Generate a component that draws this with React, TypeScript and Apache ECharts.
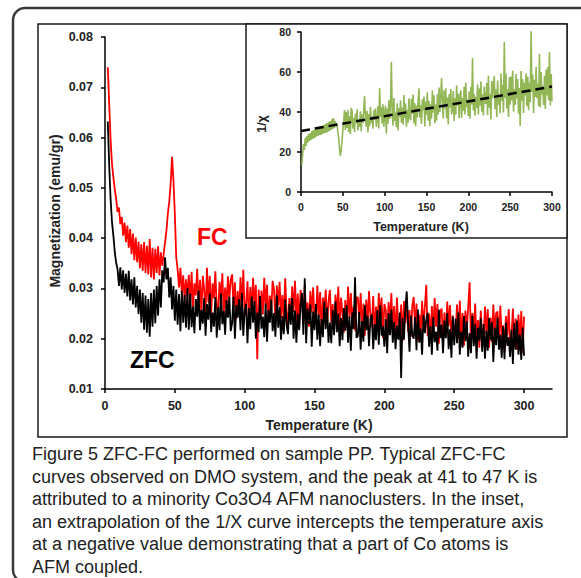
import React, { useEffect, useRef } from "react";
import * as echarts from "echarts";

// ---------- data ----------
// main plot: temperature grid starts at 2 K, 1 K step
const MAIN_T_START = 2;
// inset: temperature grid starts at 1 K, 1 K step
const INSET_T_START = 1;

const mainXTicks = [0, 50, 100, 150, 200, 250, 300];
const insetXTicks = [0, 50, 100, 150, 200, 250, 300];

// FC magnetization (emu/gr), T = 2..300 K
const fcMagnetization = [
  0.0740, 0.0668, 0.0596, 0.0548, 0.0521, 0.0497, 0.0478, 0.0452,
  0.0461, 0.0428, 0.0442, 0.0405, 0.0431, 0.0392, 0.0425, 0.0381, 0.0418, 0.0368,
  0.0409, 0.0356, 0.0401, 0.0352, 0.0393, 0.0340, 0.0388, 0.0335, 0.0392, 0.0331,
  0.0385, 0.0328, 0.0398, 0.0322, 0.0381, 0.0318, 0.0379, 0.0331, 0.0384, 0.0326,
  0.0372, 0.0345, 0.0368, 0.0392, 0.0415, 0.0449, 0.0472, 0.0508, 0.0562, 0.0515,
  0.0448, 0.0362, 0.0338, 0.0302, 0.0341, 0.0289, 0.0326, 0.0276, 0.0318, 0.0283, 0.0327,
  0.0270, 0.0333, 0.0257, 0.0310, 0.0286, 0.0339, 0.0262, 0.0317, 0.0248, 0.0325,
  0.0298, 0.0251, 0.0341, 0.0272, 0.0325, 0.0248, 0.0310, 0.0280, 0.0334, 0.0261,
  0.0253, 0.0313, 0.0274, 0.0330, 0.0247, 0.0302, 0.0261, 0.0324, 0.0279, 0.0317,
  0.0328, 0.0263, 0.0312, 0.0239, 0.0295, 0.0251, 0.0322, 0.0260, 0.0337, 0.0245,
  0.0269, 0.0314, 0.0233, 0.0303, 0.0250, 0.0321, 0.0264, 0.0307, 0.0159, 0.0298,
  0.0239, 0.0296, 0.0248, 0.0321, 0.0263, 0.0307, 0.0234, 0.0286, 0.0252, 0.0315,
  0.0298, 0.0227, 0.0306, 0.0264, 0.0313, 0.0242, 0.0287, 0.0236, 0.0320, 0.0253,
  0.0227, 0.0281, 0.0241, 0.0304, 0.0253, 0.0315, 0.0235, 0.0290, 0.0222, 0.0297,
  0.0281, 0.0230, 0.0307, 0.0239, 0.0272, 0.0224, 0.0295, 0.0252, 0.0302, 0.0237,
  0.0232, 0.0306, 0.0243, 0.0293, 0.0217, 0.0282, 0.0255, 0.0298, 0.0226, 0.0275,
  0.0297, 0.0232, 0.0269, 0.0216, 0.0288, 0.0241, 0.0304, 0.0227, 0.0282, 0.0250,
  0.0212, 0.0277, 0.0222, 0.0304, 0.0241, 0.0291, 0.0228, 0.0264, 0.0216, 0.0283,
  0.0282, 0.0239, 0.0291, 0.0215, 0.0270, 0.0206, 0.0278, 0.0231, 0.0295, 0.0246,
  0.0224, 0.0285, 0.0207, 0.0264, 0.0218, 0.0291, 0.0239, 0.0282, 0.0201, 0.0269,
  0.0257, 0.0206, 0.0273, 0.0230, 0.0291, 0.0212, 0.0265, 0.0201, 0.0282, 0.0223,
  0.0207, 0.0268, 0.0195, 0.0275, 0.0231, 0.0282, 0.0214, 0.0257, 0.0204, 0.0266,
  0.0283, 0.0219, 0.0270, 0.0196, 0.0248, 0.0212, 0.0275, 0.0223, 0.0264, 0.0307,
  0.0205, 0.0250, 0.0196, 0.0265, 0.0214, 0.0281, 0.0224, 0.0269, 0.0190, 0.0254,
  0.0260, 0.0190, 0.0252, 0.0203, 0.0274, 0.0225, 0.0267, 0.0194, 0.0246, 0.0208,
  0.0212, 0.0268, 0.0201, 0.0276, 0.0195, 0.0251, 0.0186, 0.0256, 0.0220, 0.0262,
  0.0312, 0.0190, 0.0251, 0.0211, 0.0270, 0.0195, 0.0237, 0.0182, 0.0256, 0.0206,
  0.0198, 0.0264, 0.0211, 0.0259, 0.0182, 0.0242, 0.0194, 0.0268, 0.0205, 0.0251,
  0.0254, 0.0193, 0.0266, 0.0200, 0.0227, 0.0174, 0.0245, 0.0207, 0.0259, 0.0189,
  0.0203, 0.0260, 0.0184, 0.0240, 0.0178, 0.0248, 0.0195, 0.0255, 0.0172, 0.0244,
];

// ZFC magnetization (emu/gr), T = 2..300 K
const zfcMagnetization = [
  0.0632, 0.0545, 0.0478, 0.0432, 0.0405, 0.0372, 0.0351, 0.0338,
  0.0305, 0.0342, 0.0298, 0.0336, 0.0291, 0.0329, 0.0284, 0.0335, 0.0276, 0.0318,
  0.0268, 0.0322, 0.0262, 0.0305, 0.0249, 0.0298, 0.0232, 0.0291, 0.0218, 0.0286,
  0.0212, 0.0279, 0.0204, 0.0291, 0.0224, 0.0298, 0.0231, 0.0305, 0.0246, 0.0318,
  0.0262, 0.0336, 0.0312, 0.0362, 0.0318, 0.0341, 0.0282, 0.0322, 0.0258, 0.0305,
  0.0236, 0.0298, 0.0228, 0.0289, 0.0215, 0.0296, 0.0232, 0.0287, 0.0222, 0.0301, 0.0218,
  0.0290, 0.0223, 0.0264, 0.0211, 0.0279, 0.0244, 0.0296, 0.0217, 0.0257, 0.0230,
  0.0281, 0.0206, 0.0269, 0.0238, 0.0290, 0.0213, 0.0252, 0.0224, 0.0283, 0.0202,
  0.0263, 0.0217, 0.0290, 0.0229, 0.0255, 0.0208, 0.0277, 0.0242, 0.0284, 0.0215,
  0.0231, 0.0284, 0.0200, 0.0267, 0.0242, 0.0279, 0.0217, 0.0291, 0.0206, 0.0256,
  0.0269, 0.0191, 0.0261, 0.0219, 0.0284, 0.0232, 0.0275, 0.0200, 0.0252, 0.0213,
  0.0285, 0.0220, 0.0244, 0.0203, 0.0270, 0.0194, 0.0257, 0.0232, 0.0278, 0.0215,
  0.0251, 0.0204, 0.0287, 0.0222, 0.0263, 0.0198, 0.0245, 0.0209, 0.0278, 0.0226,
  0.0209, 0.0269, 0.0228, 0.0281, 0.0200, 0.0256, 0.0192, 0.0250, 0.0217, 0.0266,
  0.0291, 0.0208, 0.0320, 0.0191, 0.0260, 0.0229, 0.0268, 0.0184, 0.0254, 0.0217,
  0.0269, 0.0198, 0.0248, 0.0185, 0.0239, 0.0203, 0.0274, 0.0219, 0.0262, 0.0192,
  0.0232, 0.0191, 0.0257, 0.0207, 0.0274, 0.0213, 0.0250, 0.0185, 0.0241, 0.0197,
  0.0261, 0.0216, 0.0267, 0.0192, 0.0244, 0.0176, 0.0252, 0.0219, 0.0322, 0.0202,
  0.0205, 0.0253, 0.0178, 0.0235, 0.0194, 0.0267, 0.0217, 0.0246, 0.0185, 0.0239,
  0.0248, 0.0179, 0.0229, 0.0197, 0.0257, 0.0188, 0.0267, 0.0206, 0.0225, 0.0184,
  0.0239, 0.0171, 0.0251, 0.0207, 0.0258, 0.0192, 0.0233, 0.0179, 0.0226, 0.0198,
  0.0252, 0.0122, 0.0241, 0.0198, 0.0259, 0.0294, 0.0227, 0.0174, 0.0246, 0.0207,
  0.0200, 0.0243, 0.0177, 0.0258, 0.0192, 0.0220, 0.0168, 0.0247, 0.0211, 0.0239,
  0.0252, 0.0184, 0.0225, 0.0168, 0.0243, 0.0193, 0.0214, 0.0176, 0.0258, 0.0201,
  0.0228, 0.0171, 0.0236, 0.0201, 0.0251, 0.0179, 0.0219, 0.0162, 0.0244, 0.0187,
  0.0240, 0.0191, 0.0252, 0.0168, 0.0214, 0.0182, 0.0245, 0.0195, 0.0235, 0.0164,
  0.0211, 0.0171, 0.0246, 0.0185, 0.0229, 0.0160, 0.0222, 0.0196, 0.0241, 0.0174,
  0.0229, 0.0160, 0.0216, 0.0176, 0.0241, 0.0197, 0.0233, 0.0154, 0.0222, 0.0187,
  0.0242, 0.0178, 0.0208, 0.0162, 0.0224, 0.0159, 0.0232, 0.0186, 0.0203, 0.0164,
  0.0218, 0.0150, 0.0231, 0.0178, 0.0236, 0.0168, 0.0208, 0.0158, 0.0222, 0.0166,
];

// inset: 1/chi, T = 1..300 K
const inverseChi = [
  13.5, 19, 24, 21, 27, 23, 28, 24.5, 29, 25.5,
  29.5, 26, 30.5, 26.5, 31, 27, 31.5, 27.5, 32, 28,
  32, 28.5, 33, 28.5, 32.5, 29, 33.5, 29.5, 34, 29.5,
  34.5, 30, 35, 30.5, 35.5, 31, 36.5, 31.5, 37, 32,
  35.5, 33, 34, 30, 27, 22, 18, 21, 25, 31,
  35, 41, 31, 40, 32, 41, 30, 38, 29, 42,
  40.6, 31.6, 37.1, 30, 39.1, 34.4, 41.4, 30.8, 36.2, 32.6,
  40.3, 30.3, 38.7, 34.6, 41.5, 48, 36.5, 32.7, 40.6, 29.8,
  39, 32.9, 42.6, 34.5, 37.9, 31.7, 40.9, 36.2, 41.8, 32.6,
  35.9, 43, 31.8, 52, 37.4, 42.3, 34.1, 43.9, 32.6, 39.3,
  43.1, 29.2, 41.7, 34.2, 45.8, 36.5, 44.2, 65, 40.1, 33.2,
  47, 35.5, 39.7, 32.4, 44.4, 30.8, 42, 37.6, 45.8, 34.6,
  42.1, 33.8, 48.5, 37, 44.3, 32.7, 41.1, 34.7, 46.9, 37.7,
  35.9, 46.6, 39.3, 48.7, 34.3, 44.3, 32.9, 43.2, 37.3, 46,
  51.8, 37.1, 43.3, 34, 46.3, 40.8, 47.7, 32.8, 45.2, 38.7,
  49.8, 35.6, 45.6, 33, 43.8, 36.6, 50.8, 39.8, 48.4, 34.4,
  43.8, 35.6, 48.8, 38.8, 52.2, 40, 47.4, 57, 45.6, 36.8,
  50.7, 41.7, 51.9, 36.9, 47.3, 33.7, 48.9, 42.3, 51.5, 38.9,
  40.9, 50.5, 35.5, 46.9, 38.7, 53.3, 43.3, 49.1, 36.9, 47.7,
  50.8, 37, 47, 40.6, 52.6, 38.8, 54.6, 42.4, 46.2, 38,
  50.2, 36.6, 52.6, 43.8, 67, 40.8, 49, 38.2, 47.6, 42,
  53.9, 38.7, 51.7, 43.1, 55.3, 40.1, 48.9, 38.3, 52.7, 44.9,
  44.1, 54.6, 38.5, 58.2, 42.1, 49, 36.3, 55.5, 46.8, 53.6,
  58, 41.4, 51.4, 37.5, 55.8, 43.6, 48.7, 39.4, 59.4, 45.5,
  53.6, 39.7, 75, 47, 59.2, 41.7, 51.4, 37.5, 57.5, 43.6,
  57.7, 45.8, 60.7, 40.2, 51.4, 43.6, 59, 46.8, 56.5, 39.2,
  52, 33, 60.5, 45.6, 56.4, 39.5, 54.6, 48.3, 59.3, 42.9,
  57.8, 41, 54.6, 44.9, 81, 50, 58.8, 39.5, 56.1, 47.5,
  62.5, 46.9, 54.2, 43, 69, 42.2, 60, 48.8, 53, 43.5,
  58.1, 41.5, 61.2, 48.3, 62.5, 45.9, 70, 43.4, 59, 45.4,
];

// linear extrapolation in the inset
const fitT = [0, 300];
const fitInverseChi = [30.5, 52.7];

const captionLines = [
  "Figure 5 ZFC-FC performed on sample PP. Typical ZFC-FC",
  "curves observed on DMO system, and the peak at 41 to 47 K is",
  "attributed to a minority Co3O4 AFM nanoclusters. In the inset,",
  "an extrapolation of the 1/X curve intercepts the temperature axis",
  "at a negative value demonstrating that a part of Co atoms is",
  "AFM coupled.",
];

const FONT = '"Liberation Sans", Arial, sans-serif';

export default function App() {
  const ref = useRef<HTMLDivElement>(null);

  useEffect(() => {
    if (!ref.current) return;
    const chart = echarts.init(ref.current, undefined, { renderer: "svg" });

    const fcData = fcMagnetization.map((v, i) => [MAIN_T_START + i, v]);
    const zfcData = zfcMagnetization.map((v, i) => [MAIN_T_START + i, v]);
    const chiData = inverseChi.map((v, i) => [INSET_T_START + i, v]);
    const fitData = fitT.map((t, i) => [t, fitInverseChi[i]]);

    const axisLine = { show: true, lineStyle: { color: "#000", width: 1.5 } };

    const option: any = {
      animation: false,
      backgroundColor: "#fff",
      grid: [
        { left: 105, top: 37, width: 447, height: 352 },
        { left: 301, top: 32, width: 251, height: 160 },
      ],
      xAxis: [
        {
          gridIndex: 0,
          type: "value",
          min: 0,
          max: 320,
          interval: 50,
          axisLine,
          axisTick: { show: true, inside: false, length: 4, lineStyle: { color: "#000", width: 1.5 }, customValues: mainXTicks },
          axisLabel: {
            customValues: mainXTicks,
            margin: 10,
            fontSize: 12.5,
            fontWeight: "bold",
            fontFamily: FONT,
            color: "#222",
            formatter: (v: number) => (v > 300 ? "" : String(v)),
          },
          splitLine: { show: false },
        },
        {
          gridIndex: 1,
          type: "value",
          min: 0,
          max: 300,
          interval: 50,
          axisLine,
          axisTick: { show: true, length: 4, lineStyle: { color: "#000", width: 1.5 }, customValues: insetXTicks },
          axisLabel: { customValues: insetXTicks, margin: 9, fontSize: 10.5, fontWeight: "bold", fontFamily: FONT, color: "#222" },
          splitLine: { show: false },
        },
      ],
      yAxis: [
        {
          gridIndex: 0,
          type: "value",
          min: 0.01,
          max: 0.08,
          interval: 0.01,
          axisLine,
          axisTick: { show: true, length: 4, lineStyle: { color: "#000", width: 1.5 } },
          axisLabel: {
            margin: 12,
            fontSize: 12.5,
            fontWeight: "bold",
            fontFamily: FONT,
            color: "#222",
            formatter: (v: number) => v.toFixed(2),
          },
          splitLine: { show: false },
        },
        {
          gridIndex: 1,
          type: "value",
          min: 0,
          max: 80,
          interval: 20,
          axisLine,
          axisTick: { show: true, length: 4, lineStyle: { color: "#000", width: 1.5 } },
          axisLabel: { margin: 10, fontSize: 10.5, fontWeight: "bold", fontFamily: FONT, color: "#222" },
          splitLine: { show: false },
        },
      ],
      series: [
        {
          name: "FC",
          type: "line",
          xAxisIndex: 0,
          yAxisIndex: 0,
          data: fcData,
          showSymbol: false,
          lineStyle: { color: "#ff0000", width: 1.8 },
          itemStyle: { color: "#ff0000" },
          z: 2,
        },
        {
          name: "ZFC",
          type: "line",
          xAxisIndex: 0,
          yAxisIndex: 0,
          data: zfcData,
          showSymbol: false,
          lineStyle: { color: "#000", width: 1.8 },
          itemStyle: { color: "#000" },
          z: 3,
        },
        {
          name: "1/chi",
          type: "line",
          xAxisIndex: 1,
          yAxisIndex: 1,
          data: chiData,
          showSymbol: false,
          lineStyle: { color: "#93b756", width: 1.6 },
          itemStyle: { color: "#93b756" },
          z: 3,
        },
        {
          name: "fit",
          type: "line",
          xAxisIndex: 1,
          yAxisIndex: 1,
          data: fitData,
          showSymbol: false,
          lineStyle: { color: "#000", width: 2.5, type: [9, 5] },
          itemStyle: { color: "#000" },
          z: 4,
        },
      ],
      graphic: [
        {
          type: "rect",
          z: -2,
          shape: { x: 13, y: 8, width: 600, height: 574, r: 12 },
          style: { fill: "none", stroke: "#3a3a3a", lineWidth: 2.5 },
          silent: true,
        },
        {
          type: "rect",
          z: -2,
          shape: { x: 38, y: 24, width: 529, height: 413 },
          style: { fill: "none", stroke: "#1a1a1a", lineWidth: 1.5 },
          silent: true,
        },
        {
          type: "rect",
          z: -1,
          shape: { x: 246, y: 24, width: 321, height: 214 },
          style: { fill: "#fff", stroke: "#1a1a1a", lineWidth: 1.5 },
          silent: true,
        },
        {
          type: "text",
          x: 197,
          y: 237,
          z: 10,
          style: { text: "FC", fill: "#ff0000", fontSize: 23, fontWeight: "bold", fontFamily: FONT, verticalAlign: "middle" },
        },
        {
          type: "text",
          x: 130,
          y: 360,
          z: 10,
          style: { text: "ZFC", fill: "#000", fontSize: 23, fontWeight: "bold", fontFamily: FONT, verticalAlign: "middle" },
        },
        {
          type: "text",
          x: 319,
          y: 425,
          z: 10,
          style: { text: "Temperature (K)", fill: "#222", fontSize: 14, fontWeight: "bold", fontFamily: FONT, align: "center", verticalAlign: "middle" },
        },
        {
          type: "text",
          x: 55,
          y: 211,
          rotation: Math.PI / 2,
          z: 10,
          style: { text: "Magnetization (emu/gr)", fill: "#222", fontSize: 14, fontWeight: "bold", fontFamily: FONT, align: "center", verticalAlign: "middle" },
        },
        {
          type: "text",
          x: 421,
          y: 227,
          z: 10,
          style: { text: "Temperature (K)", fill: "#222", fontSize: 12.5, fontWeight: "bold", fontFamily: FONT, align: "center", verticalAlign: "middle" },
        },
        {
          type: "text",
          x: 262,
          y: 124,
          rotation: Math.PI / 2,
          z: 10,
          style: { text: "1/χ", fill: "#222", fontSize: 12.5, fontWeight: "bold", fontFamily: FONT, align: "center", verticalAlign: "middle" },
        },
        ...captionLines.map((line, i) => ({
          type: "text",
          x: 32,
          y: 454 + i * 22.6,
          z: 10,
          style: { text: line, fill: "#222", fontSize: 18, fontFamily: FONT, verticalAlign: "middle" },
        })),
      ],
    };

    chart.setOption(option);
    return () => chart.dispose();
  }, []);

  return (
    <div
      ref={ref}
      style={{ position: "fixed", left: 0, top: 0, width: 581, height: 578, background: "#fff" }}
    />
  );
}
